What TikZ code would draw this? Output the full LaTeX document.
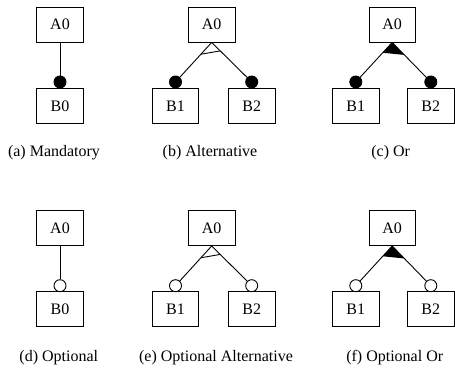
\documentclass[tikz,border=0pt]{standalone}
\usepackage{fontspec}
\setmainfont{Liberation Serif}
\usetikzlibrary{calc}
\begin{document}
\begin{tikzpicture}[x=1pt,y=1pt,line width=0.9pt,
  box/.style={draw,minimum width=46.5pt,minimum height=35pt,inner sep=0pt,font=\rmfamily\fontsize{16}{18}\selectfont},
  mand/.style={circle,draw,fill=black,minimum size=12pt,inner sep=0pt},
  opt/.style={circle,draw,fill=white,minimum size=12pt,inner sep=0pt},
  captxt/.style={anchor=base,font=\rmfamily\fontsize{16}{18}\selectfont}]
\useasboundingbox (0,0) rectangle (455,371);
% ---------- (a) Mandatory
\node[box] (aA) at (60,346.5) {A0};
\node[box] (aB) at (60,265) {B0};
\node[mand] (aC) at (60,289) {};
\draw (aA.south) -- (aC);
\node[captxt] (aT) at (54,214.3) {(a) Mandatory};
% ---------- (b) Alternative
\node[box] (bA) at (211.7,346.5) {A0};
\node[box] (bB1) at (175.5,265) {B1};
\node[box] (bB2) at (251.7,265) {B2};
\coordinate (bP1) at (175.5,289);
\coordinate (bP2) at (251.7,289);
\draw (bA.south) -- (bP1);
\draw (bA.south) -- (bP2);
\draw ($(bA.south)!16pt!(bP1)$) -- ($(bA.south)!12pt!(bP2)$);
\node[mand] (bC1) at (bP1) {};
\node[mand] (bC2) at (bP2) {};
\node[captxt] (bT) at (210,214.3) {(b) Alternative};
% ---------- (c) Or
\node[box] (cA) at (392.2,346.5) {A0};
\node[box] (cB1) at (355.8,265) {B1};
\node[box] (cB2) at (430.8,265) {B2};
\coordinate (cP1) at (355.8,289);
\coordinate (cP2) at (430.8,289);
\draw (cA.south) -- (cP1);
\draw (cA.south) -- (cP2);
\fill (cA.south) -- ($(cA.south)!14pt!(cP1)$) -- ($(cA.south)!17.5pt!(cP2)$) -- cycle;
\node[mand] (cC1) at (cP1) {};
\node[mand] (cC2) at (cP2) {};
\node[captxt] (cT) at (390.7,214.3) {(c) Or};
% ---------- (d) Optional
\node[box] (dA) at (60,143) {A0};
\node[box] (dB) at (60,62) {B0};
\node[opt] (dC) at (60,85.3) {};
\draw (dA.south) -- (dC);
\node[captxt] (dT) at (58.8,9.3) {(d) Optional};
% ---------- (e) Optional Alternative
\node[box] (eA) at (211.7,143) {A0};
\node[box] (eB1) at (175.5,62) {B1};
\node[box] (eB2) at (251.7,62) {B2};
\coordinate (eP1) at (175.5,85.3);
\coordinate (eP2) at (251.7,85.3);
\draw (eA.south) -- (eP1);
\draw (eA.south) -- (eP2);
\draw ($(eA.south)!16pt!(eP1)$) -- ($(eA.south)!12pt!(eP2)$);
\node[opt] (eC1) at (eP1) {};
\node[opt] (eC2) at (eP2) {};
\node[captxt] (eT) at (216,9.3) {(e) Optional Alternative};
% ---------- (f) Optional Or
\node[box] (fA) at (392.2,143) {A0};
\node[box] (fB1) at (355.8,62) {B1};
\node[box] (fB2) at (430.8,62) {B2};
\coordinate (fP1) at (355.8,85.3);
\coordinate (fP2) at (430.8,85.3);
\draw (fA.south) -- (fP1);
\draw (fA.south) -- (fP2);
\fill (fA.south) -- ($(fA.south)!14pt!(fP1)$) -- ($(fA.south)!17.5pt!(fP2)$) -- cycle;
\node[opt] (fC1) at (fP1) {};
\node[opt] (fC2) at (fP2) {};
\node[captxt] (fT) at (394.7,9.3) {(f) Optional Or};
\end{tikzpicture}
\end{document}
